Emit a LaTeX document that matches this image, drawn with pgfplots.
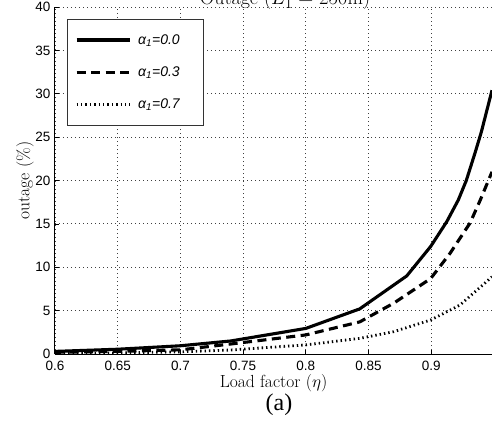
\documentclass[border=0pt]{standalone}
\usepackage{pgfplots}
\pgfplotsset{compat=1.18}
\usepackage{fontspec}
\newfontfamily\arialfont{Liberation Sans}
\newfontfamily\timesfont{Liberation Serif}
\begin{document}
\begin{tikzpicture}
\begin{axis}[
  scale only axis,
  width=437pt, height=347pt,
  xmin=0.6, xmax=0.9485, ymin=0, ymax=40,
  axis x line*=bottom, axis y line*=left,
  axis line style={-, line width=1pt, black},
  xtick={0.6,0.65,0.7,0.75,0.8,0.85,0.9},
  xticklabels={0.6,0.65,0.7,0.75,0.8,0.85,0.9},
  ytick={0,5,10,15,20,25,30,35,40},
  /pgf/number format/assume math mode=true,
  tick label style={font=\arialfont\fontsize{13.5}{13.5}\selectfont, black},
  xticklabel style={yshift=-4pt},
  yticklabel style={xshift=-1pt},
  major tick length=4pt,
  tick style={black, line width=0.6pt},
  tick align=inside,
  grid=major,
  grid style={black!75, line width=0.8pt, dash pattern=on 0.8pt off 3.2pt},
  xlabel={Load factor ($\eta$)},
  ylabel={outage (\%)},
  label style={font=\fontsize{17.5}{17.5}\selectfont},
  xlabel style={at={(axis description cs:0.5,-0.085)}, anchor=center},
  ylabel style={at={(axis description cs:-0.0686,0.5)}, anchor=center},
  legend style={at={(0.0268,0.9654)}, anchor=north west, draw=black!80, line width=0.8pt,
    font=\arialfont\itshape\fontsize{14}{14}\selectfont, cells={anchor=west},
    inner xsep=8pt, inner ysep=13pt, row sep=17pt},
  legend image code/.code={\draw[#1] (0pt,0pt) -- (53pt,0pt);},
]
\addplot[black, line width=3.1pt] coordinates {
(0.6,0.3) (0.65,0.55) (0.7,0.95) (0.74,1.5) (0.8,2.95) (0.843,5.2) (0.8805,9.0)
(0.8996,12.4) (0.9124,15.25) (0.9216,17.75) (0.928,20) (0.935,23.2) (0.94,25.6) (0.9485,30.4)};
\addlegendentry{\makebox[60pt][l]{\hspace{5pt}α\textsubscript{1}=0.0}}
\addplot[black, line width=3.1pt, dash pattern=on 9pt off 5.5pt] coordinates {
(0.6,0.2) (0.65,0.3) (0.7,0.48) (0.74,1.15) (0.8,2.2) (0.843,3.7) (0.870,5.85)
(0.8996,8.7) (0.915,11.6) (0.931,15.1) (0.939,17.7) (0.9485,21)};
\addlegendentry{\makebox[60pt][l]{\hspace{5pt}α\textsubscript{1}=0.3}}
\addplot[black, line width=2.8pt, dash pattern=on 1.4pt off 3pt] coordinates {
(0.6,0.05) (0.65,0.12) (0.7,0.25) (0.74,0.46) (0.8,1.05) (0.843,1.8) (0.870,2.57)
(0.8996,3.92) (0.923,5.65) (0.9485,8.9)};
\addlegendentry{\makebox[60pt][l]{\hspace{5pt}α\textsubscript{1}=0.7}}
\end{axis}
\node[anchor=base, font=\fontsize{20}{20}\selectfont] at (230pt,349pt) {Outage ($L_1 = 250$m)};
\node[anchor=center, font=\timesfont\fontsize{24}{24}\selectfont] at (224pt,-51pt) {(a)};
\pgfresetboundingbox
\path[use as bounding box] (-55pt,-67pt) rectangle (437pt,354pt);
\end{tikzpicture}
\end{document}
